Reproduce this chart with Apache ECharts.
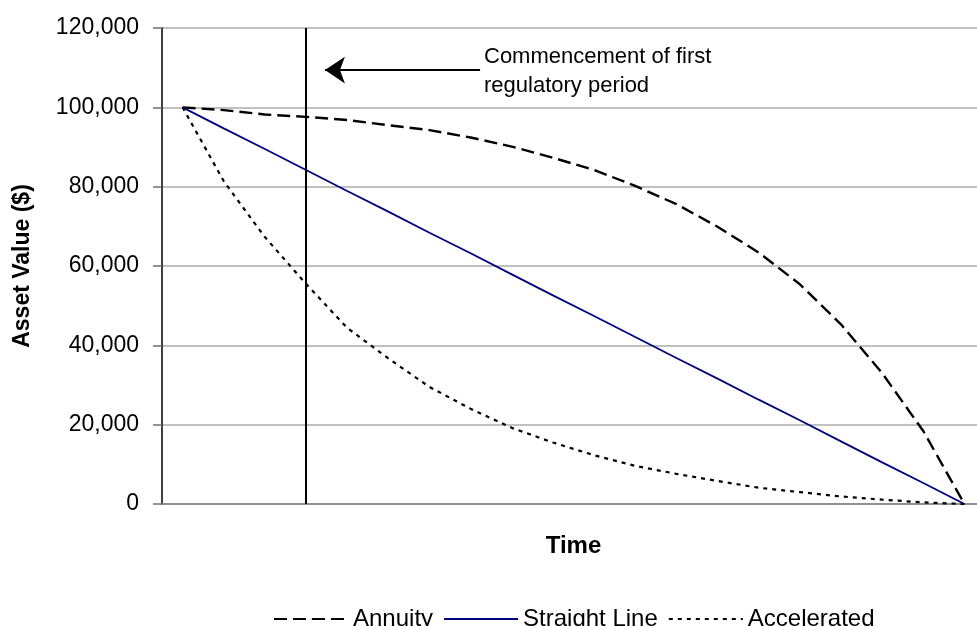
<!DOCTYPE html>
<html>
<head>
<meta charset="utf-8">
<script src="https://cdn.jsdelivr.net/npm/echarts@6/dist/echarts.min.js"></script>
<style>
  html, body { margin: 0; padding: 0; background: #fff; overflow: hidden; }
  #chart { width: 977px; height: 626px; }
</style>
</head>
<body>
<div id="chart"></div>
<script>
// Asset value over its life under three depreciation profiles
const periods = ['1','2','3','4','5','6','7','8','9','10','11','12','13','14','15','16','17','18','19','20'];
const annuity = [100000, 99300, 98200, 97600, 96800, 95500, 94250, 92400, 90100, 87300, 84200, 80200, 75600, 69900, 63400, 55400, 45300, 33000, 18400, 0];
const straightLine = [100000, 94700, 89500, 84200, 78900, 73700, 68400, 63200, 57900, 52600, 47400, 42100, 36800, 31600, 26300, 21100, 15800, 10500, 5300, 0];
const accelerated = [100000, 81400, 67300, 55500, 44400, 36700, 29500, 24000, 19200, 15500, 12300, 9600, 7600, 5800, 4100, 3000, 1900, 1100, 400, 0];

// Start of the first regulatory period and the arrow pointing at it
// (arrow ends are in period units on a continuous copy of the time axis)
const commencementPeriod = '4';
const arrowTail = [7.23, 109400];
const arrowHead = [3.46, 109400];

const font = "'Liberation Sans', Arial, sans-serif";
const chart = echarts.init(document.getElementById('chart'), null, { renderer: 'canvas' });

chart.setOption({
  animation: false,
  backgroundColor: '#ffffff',
  textStyle: { fontFamily: font, color: '#000' },
  // the plot area runs a little past the right edge of the canvas
  grid: {
    left: 162, top: 28, width: 823, height: 476,
    containLabel: false,
    outerBoundsMode: 'none'
  },
  legend: {
    left: 268,
    top: 602,
    itemWidth: 74,
    itemHeight: 1,
    itemGap: 10,
    textStyle: { fontFamily: font, fontSize: 24, color: '#000' },
    data: ['Annuity', 'Straight Line', 'Accelerated']
  },
  xAxis: [
    {
      type: 'category',
      data: periods,
      boundaryGap: true,
      name: 'Time',
      nameLocation: 'middle',
      nameGap: 30,
      nameTextStyle: { fontFamily: font, fontSize: 24, fontWeight: 'bold', color: '#000' },
      axisLine: { show: true, onZero: false, lineStyle: { color: '#7f7f7f', width: 1.5 } },
      axisTick: { show: false },
      axisLabel: { show: false },
      splitLine: { show: false }
    },
    {
      // continuous twin of the period axis, band centres at whole numbers
      type: 'value',
      min: -0.5,
      max: periods.length - 0.5,
      show: false
    }
  ],
  yAxis: {
    type: 'value',
    min: 0,
    max: 120000,
    interval: 20000,
    name: 'Asset Value ($)',
    nameLocation: 'middle',
    nameGap: 128,
    nameTextStyle: { fontFamily: font, fontSize: 23, fontWeight: 'bold', color: '#000' },
    axisLine: { show: true, onZero: false, lineStyle: { color: '#000', width: 1.5 } },
    axisTick: { show: true, length: 9, lineStyle: { color: '#6f6f6f', width: 1.5 } },
    axisLabel: {
      margin: 23,
      fontFamily: font,
      fontSize: 23,
      color: '#000',
      formatter: v => v.toLocaleString('en-US')
    },
    splitLine: { show: true, lineStyle: { color: '#c0c0c0', width: 2 } }
  },
  series: [
    {
      name: 'Annuity',
      type: 'line',
      data: annuity,
      symbol: 'none',
      color: '#000',
      lineStyle: { color: '#000', width: 2.4, type: [13, 6] },
      z: 3
    },
    {
      name: 'Straight Line',
      type: 'line',
      data: straightLine,
      symbol: 'none',
      color: '#000080',
      lineStyle: { color: '#000080', width: 1.8, type: 'solid' },
      z: 3,
      markLine: {
        silent: true,
        animation: false,
        symbol: 'none',
        label: { show: false },
        emphasis: { disabled: true },
        data: [
          { xAxis: commencementPeriod, lineStyle: { color: '#000', width: 2, type: 'solid' } }
        ]
      }
    },
    {
      name: 'Accelerated',
      type: 'line',
      data: accelerated,
      symbol: 'none',
      color: '#000',
      lineStyle: { color: '#000', width: 2.2, type: [4, 5] },
      z: 3
    },
    {
      name: 'annotation',
      type: 'line',
      xAxisIndex: 1,
      data: [],
      symbol: 'none',
      markLine: {
        silent: true,
        animation: false,
        symbol: 'none',
        label: { show: false },
        emphasis: { disabled: true },
        data: [
          [
            { coord: arrowTail, symbol: 'none', lineStyle: { color: '#000', width: 2, type: 'solid' } },
            { coord: arrowHead, symbol: 'arrow', symbolSize: [20, 20] }
          ]
        ]
      }
    }
  ],
  graphic: [
    {
      type: 'text',
      left: 484,
      top: 42,
      style: {
        text: 'Commencement of first\nregulatory period',
        fontFamily: font,
        fontSize: 22,
        lineHeight: 29,
        fill: '#000'
      }
    }
  ]
});
</script>
</body>
</html>
